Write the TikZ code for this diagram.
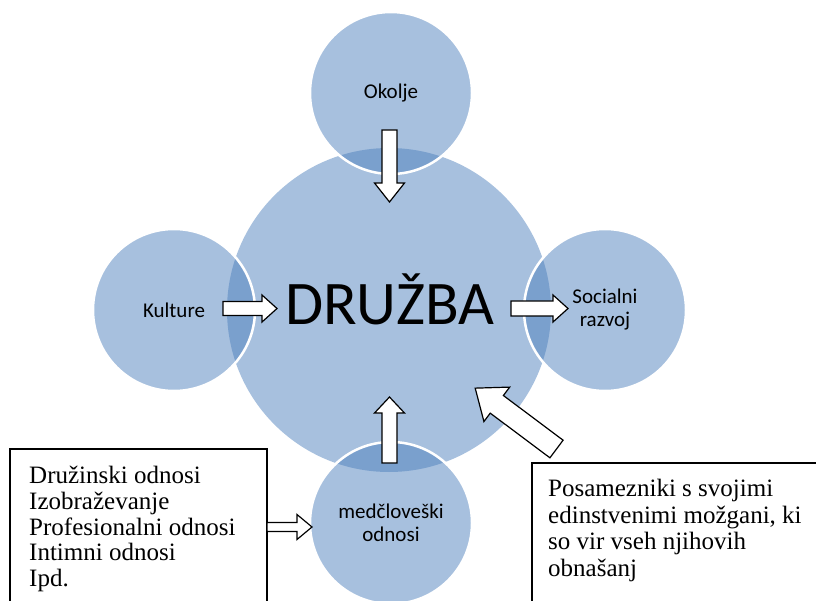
\documentclass[tikz,border=0pt]{standalone}
\usepackage{fontspec}
\setmainfont{Liberation Serif}
\newfontfamily\carl{Carlito}
\usetikzlibrary{calc}
\definecolor{cblue}{HTML}{4F81BD}
\tikzset{
  bigcirc/.style={circle, inner sep=0pt, minimum size=324pt, fill=cblue, fill opacity=0.5, text opacity=1},
  satcirc/.style={circle, inner sep=0pt, minimum size=162pt, fill=cblue, fill opacity=0.5, draw=white, draw opacity=1, line width=2.5pt, text opacity=1, font=\carl\fontsize{21}{23}\selectfont, align=center},
  barrow/.style={draw=black, fill=white, line width=1.2pt, line join=miter},
  textbox/.style={draw=black, line width=1.3pt},
  boxtext/.style={inner sep=0pt, anchor=north west, align=left}
}
\newcommand\blockarr[5]{%
  \draw[barrow] let \p1=($(#2)-(#1)$), \n1={atan2(\y1,\x1)}, \n2={veclen(\x1,\y1)} in
    [shift={(#1)}, rotate=\n1]
    (0pt,{#3*1pt}) -- ({\n2*1pt-#5*1pt},{#3*1pt}) -- ({\n2*1pt-#5*1pt},{#4*1pt}) --
    ({\n2*1pt},0pt) -- ({\n2*1pt-#5*1pt},{-#4*1pt}) -- ({\n2*1pt-#5*1pt},{-#3*1pt}) --
    (0pt,{-#3*1pt}) -- cycle;}
\begin{document}
\begin{tikzpicture}[x=1pt,y=-1pt]
\useasboundingbox (0,0) rectangle (816,601);
\clip (0,0) rectangle (816,601);
% central circle
\node[bigcirc] (c) at (389,310) {};
% satellites
\node[satcirc] (top) at (391,93) {Okolje};
\node[satcirc] (left) at (174,310) {Kulture};
\node[satcirc] (right) at (605,310) {Socialni\\razvoj};
\node[satcirc] (bot) at (391,523) {\raisebox{-5pt}{\parbox{140pt}{\centering med\v{c}love\v{s}ki\\odnosi}}};
% central text
\node[inner sep=0pt, anchor=base, font=\carl\fontsize{62}{64}\selectfont] (druzba) at (390,325) {DRUŽBA};
% boxes
\draw[textbox] (10,620) -- (10,449) -- (267,449) -- (267,620);
\draw[textbox] (532,620) -- (532,463) -- (830,463);
\node[boxtext, font=\fontsize{25}{25.8}\selectfont] (ltext) at (29,466) {Družinski odnosi\\Izobraževanje\\Profesionalni odnosi\\Intimni odnosi\\Ipd.};
\node[boxtext, font=\fontsize{25}{26.7}\selectfont] (rtext) at (548,479) {Posamezniki s svojimi\\edinstvenimi možgani, ki\\so vir vseh njihovih\\obnašanj};
% arrow coordinates
\coordinate (a1s) at (389.5,130); \coordinate (a1e) at (389.5,202);
\coordinate (a2s) at (223,308.5); \coordinate (a2e) at (277,308.5);
\coordinate (a3s) at (511,308.5); \coordinate (a3e) at (568,308.5);
\coordinate (a4s) at (389.5,463); \coordinate (a4e) at (389.5,397);
\coordinate (a5s) at (556.5,449); \coordinate (a5e) at (475,388);
\coordinate (a6s) at (267,527); \coordinate (a6e) at (312,527);
\blockarr{a1s}{a1e}{7.5}{15}{19}
\blockarr{a2s}{a2e}{7}{13.5}{15}
\blockarr{a3s}{a3e}{7.5}{13.5}{15}
\blockarr{a4s}{a4e}{7.5}{15}{16}
\blockarr{a5s}{a5e}{11}{21.5}{27}
\blockarr{a6s}{a6e}{4.5}{12.5}{15}
\end{tikzpicture}
\end{document}
